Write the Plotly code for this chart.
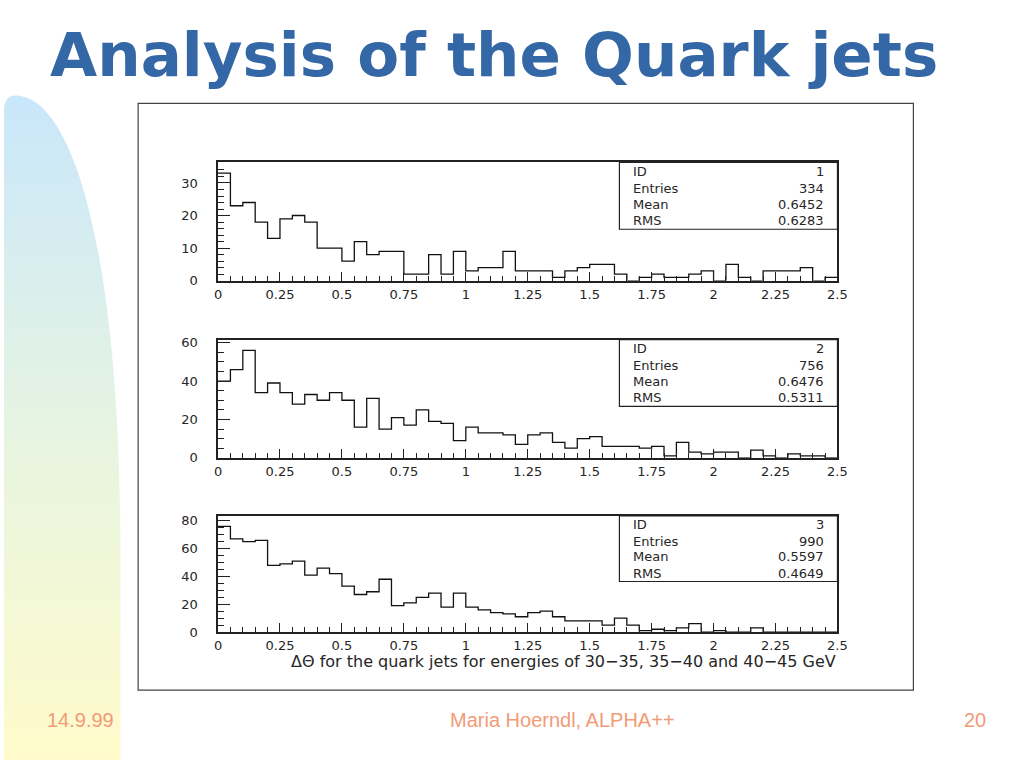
import base64
import plotly.graph_objects as go

# ---------------- data ----------------
BIN_WIDTH = 0.05
N_BINS = 50

counts_h1 = [33, 23, 24, 18, 13, 19, 20, 18, 10, 10,
             6, 12, 8, 9, 9, 2, 2, 8, 2, 9,
             3, 4, 4, 9, 3, 3, 3, 1, 3, 4,
             5, 5, 2, 0, 1, 2, 1, 1, 2, 3,
             0, 5, 1, 0, 3, 3, 3, 4, 0, 1]
counts_h2 = [40, 46, 56, 34, 39, 34, 28, 33, 30, 34,
             30, 16, 31, 15, 21, 17, 25, 19, 18, 9,
             16, 13, 13, 12, 7, 12, 13, 8, 5, 10,
             11, 6, 6, 6, 5, 6, 1, 8, 3, 2,
             3, 3, 0, 4, 1, 0, 2, 1, 1, 0]
counts_h3 = [76, 67, 65, 66, 48, 49, 51, 41, 46, 42,
             33, 27, 29, 38, 19, 21, 25, 28, 18, 28,
             18, 16, 14, 13, 11, 14, 15, 11, 8, 8,
             8, 5, 10, 5, 1, 2, 1, 3, 6, 0,
             1, 0, 0, 3, 0, 0, 0, 0, 0, 0]

stats_labels = ["ID", "Entries", "Mean", "RMS"]
stats_h1 = ["1", "334", "0.6452", "0.6283"]
stats_h2 = ["2", "756", "0.6476", "0.5311"]
stats_h3 = ["3", "990", "0.5597", "0.4649"]

x_tickvals = [0, 0.25, 0.5, 0.75, 1, 1.25, 1.5, 1.75, 2, 2.25, 2.5]
x_ticktext = ["0", "0.25", "0.5", "0.75", "1", "1.25", "1.5", "1.75", "2", "2.25", "2.5"]
y_major = [10, 20, 20]
y_minor = [2, 5, 5]

title_text = "Analysis of the Quark jets"
x_title = "ΔΘ for the quark jets for energies of 30−35, 35−40 and 40−45 GeV"
footer_left = "14.9.99"
footer_mid = "Maria Hoerndl, ALPHA++"
footer_right = "20"

# ---------------- layout helpers ----------------
W, H = 1024, 768
def px(x):
    return x / W
def py(y):
    return 1 - y / H

panels = [  # (top px, bottom px)
    (161, 281),
    (341, 461),
    (520, 638),
]
x_left, x_right = 217, 845

fig = go.Figure()
edges = [i * BIN_WIDTH for i in range(N_BINS + 1)]
all_counts = [counts_h1, counts_h2, counts_h3]
all_stats = [stats_h1, stats_h2, stats_h3]

FONT = "DejaVu Sans"
AX_COL = "#222222"
TXT_COL = "#262626"

for i, (cnts, (top, bot)) in enumerate(zip(all_counts, panels)):
    n = "" if i == 0 else str(i + 1)
    fig.add_trace(go.Scatter(
        x=edges, y=list(cnts) + [cnts[-1]],
        mode="lines", line=dict(shape="hv", color="#111111", width=1.3),
        xaxis="x" + n, yaxis="y" + n, showlegend=False, hoverinfo="skip"))
    ymax = 1.1 * max(cnts)
    fig.layout["xaxis" + n] = dict(
        domain=[px(x_left), px(x_right)], anchor="y" + n,
        range=[0, 2.5], tickmode="array", tickvals=x_tickvals, ticktext=x_ticktext,
        ticks="inside", ticklen=9, tickwidth=1.2, tickcolor=AX_COL,
        minor=dict(tickmode="linear", tick0=0, dtick=BIN_WIDTH, ticks="inside",
                   ticklen=5, tickwidth=1.2, tickcolor=AX_COL),
        showline=True, linecolor=AX_COL, linewidth=1.5, mirror=True,
        showgrid=False, zeroline=False, ticklabelstandoff=1,
        tickfont=dict(family=FONT, size=13, color=TXT_COL))
    fig.layout["yaxis" + n] = dict(
        domain=[py(bot), py(top)], anchor="x" + n,
        range=[0, ymax], tickmode="linear", tick0=0, dtick=y_major[i],
        ticks="inside", ticklen=12, tickwidth=1.2, tickcolor=AX_COL,
        minor=dict(tickmode="linear", tick0=0, dtick=y_minor[i], ticks="inside",
                   ticklen=6, tickwidth=1.2, tickcolor=AX_COL),
        showline=True, linecolor=AX_COL, linewidth=1.5, mirror=True,
        showgrid=False, zeroline=False, ticklabelstandoff=16,
        tickfont=dict(family=FONT, size=13, color=TXT_COL))

    # stats box
    xr = "x" + n + " domain"
    yr = "y" + n + " domain"
    fig.add_shape(type="rect", xref=xr, yref=yr, x0=0.648, x1=1.0, y0=0.435, y1=1.0,
                  line=dict(color=AX_COL, width=1.2), fillcolor="rgba(0,0,0,0)")
    rows_y = [0.925, 0.783, 0.648, 0.508]
    for lab, val, yy in zip(stats_labels, all_stats[i], rows_y):
        fig.add_annotation(xref=xr, yref=yr, x=0.667, y=yy, text=lab, showarrow=False,
                           xanchor="left", yanchor="middle",
                           font=dict(family=FONT, size=13, color=TXT_COL))
        fig.add_annotation(xref=xr, yref=yr, x=0.982, y=yy, text=val, showarrow=False,
                           xanchor="right", yanchor="middle",
                           font=dict(family=FONT, size=13, color=TXT_COL))

# x title under the 3rd panel
fig.add_annotation(xref="paper", yref="paper", x=px(846), y=py(668), text=x_title,
                   showarrow=False, xanchor="right", yanchor="middle",
                   font=dict(family=FONT, size=16, color=TXT_COL))

# outer frame
fig.add_shape(type="rect", xref="paper", yref="paper", x0=px(136), x1=px(922),
              y0=py(697), y1=py(101), line=dict(color="#444", width=1.2))

# slide title
fig.add_annotation(xref="paper", yref="paper", x=px(45), y=py(51), text="<b>" + title_text + "</b>",
                   showarrow=False, xanchor="left", yanchor="middle",
                   font=dict(family="DejaVu Sans", size=61, color="#3467A5"))

# footer
FOOT_COL = "#F19B78"
FOOT_FONT = "Liberation Sans"
for txt, xx in [(footer_left, 78), (footer_mid, 566), (footer_right, 984)]:
    fig.add_annotation(xref="paper", yref="paper", x=px(xx), y=py(727), text=txt,
                       showarrow=False, xanchor="center", yanchor="middle",
                       font=dict(family=FOOT_FONT, size=20, color=FOOT_COL))

# decorative gradient arc on the left
svg = (
    '<svg xmlns="http://www.w3.org/2000/svg" width="1024" height="768" viewBox="0 0 1024 768" '
    'preserveAspectRatio="none">'
    '<defs><linearGradient id="g" x1="0" y1="0" x2="0" y2="1">'
    '<stop offset="0" stop-color="#C9E7FB"/>'
    '<stop offset="0.55" stop-color="#E9F5DF"/>'
    '<stop offset="1" stop-color="#FFFBCB"/>'
    '</linearGradient></defs>'
    '<path d="M0,106 C1,96 6,92 14,93 C70,98 118,250 118,560 L118,768 L0,768 Z" fill="url(#g)"/>'
    '</svg>'
)
src = "data:image/svg+xml;base64," + base64.b64encode(svg.encode()).decode()
fig.add_layout_image(source=src, xref="paper", yref="paper", x=0, y=1, sizex=1, sizey=1,
                     xanchor="left", yanchor="top", sizing="stretch", layer="below")

fig.update_layout(width=W, height=H, autosize=False, margin=dict(l=0, r=0, t=0, b=0),
                  paper_bgcolor="white", plot_bgcolor="rgba(0,0,0,0)")

fig.write_html("out.html",
               config={"displayModeBar": False, "responsive": False},
               post_script="document.body.style.margin='0';document.body.style.overflow='hidden';")
